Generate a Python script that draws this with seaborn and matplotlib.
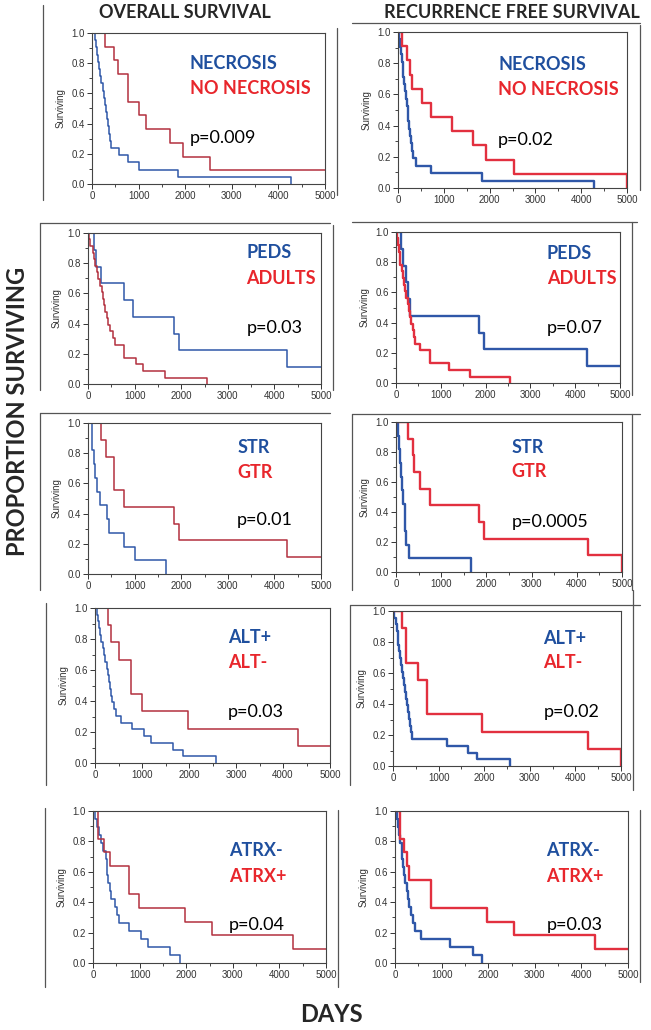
import numpy as np
import pandas as pd
import matplotlib
matplotlib.use("Agg")
import matplotlib.pyplot as plt
from matplotlib.lines import Line2D
from matplotlib.ticker import MultipleLocator, FormatStrFormatter
import seaborn as sns

# ---- Kaplan-Meier step data (days, proportion surviving) ----
# NECROSIS vs NO NECROSIS
os_necro_t = [0, 60, 80, 100, 130, 160, 180, 200, 230, 260, 280, 300, 320, 340, 360, 380, 400, 571, 771, 1000, 1843, 4271]
os_necro_s = [1, .952, .905, .857, .810, .762, .714, .667, .619, .571, .524, .476, .429, .381, .333, .286, .238, .190, .143, .095, .048, 0]
os_nonecro_t = [0, 286, 464, 550, 771, 1000, 1157, 1664, 1950, 2536, 5000]
os_nonecro_s = [1, .909, .818, .727, .545, .455, .364, .273, .182, .091, .091]
rfs_necro_t = [0, 30, 50, 70, 87, 100, 115, 138, 150, 170, 190, 211, 225, 240, 260, 280, 300, 327, 400, 728, 1834, 4272]
rfs_necro_s = [1, .952, .905, .857, .810, .762, .714, .667, .619, .571, .524, .476, .429, .381, .333, .286, .238, .190, .143, .095, .048, 0]
rfs_nonecro_t = [0, 95, 196, 270, 298, 524, 728, 1179, 1638, 1929, 2525, 5000]
rfs_nonecro_s = [1, .909, .818, .727, .636, .545, .455, .364, .273, .182, .091, 0]

# PEDS vs ADULTS
os_peds_t = [0, 129, 179, 287, 774, 967, 1841, 1956, 4277, 5000]
os_peds_s = [1, .889, .778, .667, .556, .444, .333, .222, .111, .111]
os_adults_t = [0, 21, 50, 100, 130, 160, 190, 220, 260, 290, 320, 340, 370, 400, 430, 465, 540, 573, 770, 780, 1020, 1180, 1660, 2560]
os_adults_s = [1, .957, .913, .870, .826, .783, .739, .696, .652, .609, .565, .522, .478, .435, .391, .348, .304, .261, .217, .174, .130, .087, .043, 0]
rfs_peds_t = [0, 111, 156, 230, 267, 320, 1857, 1954, 4272, 5000]
rfs_peds_s = [1, .889, .778, .667, .556, .444, .333, .222, .111, .111]
rfs_adults_t = [0, 22, 40, 60, 80, 100, 130, 150, 180, 200, 230, 260, 290, 320, 340, 370, 400, 431, 542, 765, 1189, 1657, 2548]
rfs_adults_s = [1, .957, .913, .870, .826, .783, .739, .696, .652, .609, .565, .522, .478, .435, .391, .348, .304, .261, .217, .130, .087, .043, 0]

# STR vs GTR
os_str_t = [0, 86, 129, 158, 200, 250, 408, 451, 767, 1017, 1669]
os_str_s = [1, .818, .727, .636, .545, .455, .364, .273, .182, .091, 0]
os_gtr_t = [0, 272, 380, 559, 767, 1841, 1956, 4277, 5000]
os_gtr_s = [1, .889, .778, .556, .444, .333, .222, .111, .111]
rfs_str_t = [0, 50, 70, 90, 110, 140, 160, 190, 200, 220, 290, 1660]
rfs_str_s = [1, .909, .818, .727, .636, .545, .455, .364, .273, .182, .091, 0]
rfs_gtr_t = [0, 265, 369, 406, 524, 745, 1844, 1940, 4248, 5000]
rfs_gtr_s = [1, .889, .778, .667, .556, .444, .333, .222, .111, 0]

# ALT+ vs ALT-
os_altp_t = [0, 36, 60, 80, 100, 130, 160, 190, 220, 250, 280, 300, 320, 340, 370, 400, 450, 557, 786, 1036, 1200, 1664, 1864, 2579]
os_altp_s = [1, .957, .913, .870, .826, .783, .739, .696, .652, .609, .565, .522, .478, .435, .391, .348, .304, .261, .217, .174, .130, .087, .043, 0]
os_altn_t = [0, 286, 343, 507, 757, 1000, 1986, 4329, 5000]
os_altn_s = [1, .889, .778, .667, .444, .333, .222, .111, .111]
rfs_altp_t = [0, 30, 60, 80, 100, 120, 140, 160, 180, 200, 220, 240, 260, 290, 310, 330, 350, 370, 390, 417, 1186, 1647, 1852, 2562]
rfs_altp_s = [1, .957, .913, .870, .826, .783, .739, .696, .652, .609, .565, .522, .478, .435, .391, .348, .304, .261, .217, .174, .130, .087, .043, 0]
rfs_altn_t = [0, 205, 278, 293, 549, 754, 1962, 4268, 5000]
rfs_altn_s = [1, .889, .778, .667, .556, .333, .222, .111, 0]

# ATRX- vs ATRX+
os_atrxn_t = [0, 50, 90, 130, 170, 220, 270, 290, 310, 330, 360, 390, 464, 520, 550, 764, 1036, 1179, 1657, 1871]
os_atrxn_s = [1, .947, .895, .842, .789, .737, .684, .632, .579, .526, .474, .421, .368, .316, .263, .211, .158, .105, .053, 0]
os_atrxp_t = [0, 100, 243, 357, 764, 979, 1964, 2550, 4286, 5000]
os_atrxp_s = [1, .818, .727, .636, .455, .364, .273, .182, .091, .091]
rfs_atrxn_t = [0, 36, 60, 90, 110, 140, 160, 180, 200, 220, 250, 280, 300, 340, 390, 430, 552, 1182, 1669, 1862]
rfs_atrxn_s = [1, .947, .895, .842, .789, .737, .684, .632, .579, .526, .474, .421, .368, .316, .263, .211, .158, .105, .053, 0]
rfs_atrxp_t = [0, 107, 193, 250, 300, 767, 1970, 2543, 4284, 5000]
rfs_atrxp_s = [1, .818, .727, .636, .545, .364, .273, .182, .091, .091]

group_blue = ["NECROSIS", "PEDS", "STR", "ALT+", "ATRX-"]
group_red = ["NO NECROSIS", "ADULTS", "GTR", "ALT-", "ATRX+"]
pvals_os = ["p=0.009", "p=0.03", "p=0.01", "p=0.03", "p=0.04"]
pvals_rfs = ["p=0.02", "p=0.07", "p=0.0005", "p=0.02", "p=0.03"]

sns.set_style("ticks")
plt.rcParams['font.family'] = ['Liberation Sans', 'DejaVu Sans']

W, H = 651, 1030
fig = plt.figure(figsize=(W / 100, H / 100), dpi=100)

BLUE = "#2f57a8"
RED_OS = "#b3303f"
RED_RFS = "#e2303f"
TXT_BLUE = "#1f4f9e"
TXT_RED = "#e8262c"

# panel boxes in pixels: left, right, top, bottom
boxes_os = [(92, 325, 33, 184), (88, 321, 233, 384), (88, 321, 423, 574), (95, 330, 608, 763), (93, 326, 811, 963)]
boxes_rfs = [(398, 627, 32, 188), (396, 620, 232, 383), (396, 622, 422, 572), (393, 621, 611, 766), (395, 628, 811, 963)]
# label anchor (x frac, y of first label, second, p-value)
lab_os = [(0.42, 0.80, 0.635, 0.305), (0.68, 0.87, 0.70, 0.37), (0.64, 0.84, 0.675, 0.36),
          (0.566, 0.81, 0.65, 0.33), (0.584, 0.74, 0.57, 0.25)]
lab_rfs = [(0.437, 0.79, 0.63, 0.31), (0.674, 0.86, 0.695, 0.364), (0.51, 0.83, 0.667, 0.333),
           (0.66, 0.82, 0.665, 0.35), (0.65, 0.74, 0.57, 0.25)]

os_curves = [((os_necro_t, os_necro_s), (os_nonecro_t, os_nonecro_s)),
             ((os_peds_t, os_peds_s), (os_adults_t, os_adults_s)),
             ((os_str_t, os_str_s), (os_gtr_t, os_gtr_s)),
             ((os_altp_t, os_altp_s), (os_altn_t, os_altn_s)),
             ((os_atrxn_t, os_atrxn_s), (os_atrxp_t, os_atrxp_s))]
rfs_curves = [((rfs_necro_t, rfs_necro_s), (rfs_nonecro_t, rfs_nonecro_s)),
              ((rfs_peds_t, rfs_peds_s), (rfs_adults_t, rfs_adults_s)),
              ((rfs_str_t, rfs_str_s), (rfs_gtr_t, rfs_gtr_s)),
              ((rfs_altp_t, rfs_altp_s), (rfs_altn_t, rfs_altn_s)),
              ((rfs_atrxn_t, rfs_atrxn_s), (rfs_atrxp_t, rfs_atrxp_s))]


def make_panel(box, curves, red, lw, labels, ptxt, lab):
    l, r, t, b = box
    ax = fig.add_axes([l / W, 1 - b / H, (r - l) / W, (b - t) / H])
    for (tt, ss), col in zip(curves, [BLUE, red]):
        df = pd.DataFrame({"days": tt, "surv": ss})
        sns.lineplot(data=df, x="days", y="surv", ax=ax, color=col, linewidth=lw,
                     drawstyle="steps-post", estimator=None, sort=False, legend=False)
    ax.set_xlim(0, 5000)
    ax.set_ylim(0, 1.0)
    ax.xaxis.set_major_locator(MultipleLocator(1000))
    ax.xaxis.set_minor_locator(MultipleLocator(500))
    ax.yaxis.set_major_locator(MultipleLocator(0.2))
    ax.yaxis.set_minor_locator(MultipleLocator(0.1))
    ax.yaxis.set_major_formatter(FormatStrFormatter('%.1f'))
    ax.tick_params(which='major', length=3.5, width=0.7, labelsize=7, pad=1.5, colors='#333333')
    ax.tick_params(which='minor', length=2, width=0.6)
    for sp in ax.spines.values():
        sp.set_linewidth(0.8)
        sp.set_color('#444444')
    ax.set_xlabel("")
    ax.set_ylabel("Surviving", fontsize=7, labelpad=4, color='#333333')
    fx, y1, y2, yp = lab
    ax.text(fx, y1, labels[0], transform=ax.transAxes, color=TXT_BLUE, fontsize=13,
            fontweight='bold', family='Lato', va='center', ha='left')
    ax.text(fx, y2, labels[1], transform=ax.transAxes, color=TXT_RED, fontsize=13,
            fontweight='bold', family='Lato', va='center', ha='left')
    ax.text(fx, yp, ptxt, transform=ax.transAxes, color='black', fontsize=13,
            family='Lato', va='center', ha='left')
    return ax


for i in range(5):
    make_panel(boxes_os[i], os_curves[i], RED_OS, 1.1,
               (group_blue[i], group_red[i]), pvals_os[i], lab_os[i])
    make_panel(boxes_rfs[i], rfs_curves[i], RED_RFS, 1.7,
               (group_blue[i], group_red[i]), pvals_rfs[i], lab_rfs[i])

# frame remnants around the pasted panels (pixel segments)
frame_segs = [
    ((43, 5), (43, 200)),
    ((337, 28), (337, 195)), ((352, 23), (640, 23)), ((640, 25), (640, 190)),
    ((40, 223), (40, 390)), ((40, 223), (330, 223)),
    ((333, 225), (333, 390)), ((352, 222), (637, 222)), ((632, 222), (632, 395)),
    ((40, 413), (40, 590)), ((40, 413), (330, 413)),
    ((352, 414), (352, 590)), ((352, 414), (640, 414)), ((632, 414), (632, 590)),
    ((46, 603), (46, 785)),
    ((350, 605), (350, 785)), ((350, 605), (640, 605)), ((633, 590), (633, 790)),
    ((45, 808), (45, 987)),
    ((338, 810), (338, 987)), ((640, 810), (640, 982)),
]
for (x0, y0), (x1, y1) in frame_segs:
    fig.add_artist(Line2D([x0 / W, x1 / W], [1 - y0 / H, 1 - y1 / H],
                          transform=fig.transFigure, color='#555555', linewidth=0.9))

fig.text(185 / W, 1 - 13 / H, "OVERALL SURVIVAL", ha='center', va='center',
         fontsize=13, fontweight='bold', family='Lato')
fig.text(512 / W, 1 - 13 / H, "RECURRENCE FREE SURVIVAL", ha='center', va='center',
         fontsize=13, fontweight='bold', family='Lato')
fig.text(18 / W, 1 - 411 / H, "PROPORTION SURVIVING", ha='center', va='center',
         rotation=90, fontsize=17, fontweight='bold', family='Lato')
fig.text(331 / W, 1 - 1014 / H, "DAYS", ha='center', va='center',
         fontsize=17, fontweight='bold', family='Lato')

fig.savefig("out.png", dpi=100, facecolor='white')
